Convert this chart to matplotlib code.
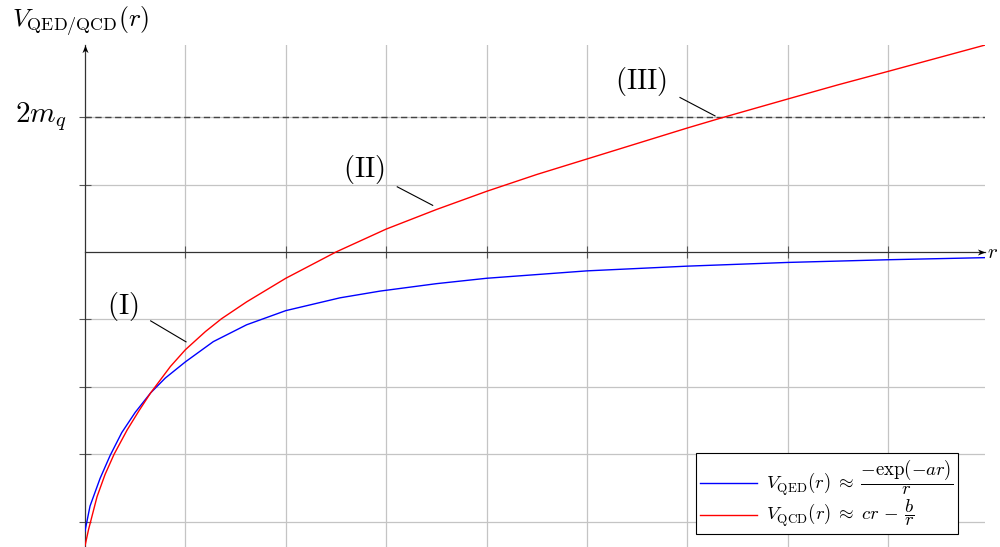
import matplotlib
matplotlib.use("Agg")
import matplotlib.pyplot as plt
from matplotlib.path import Path

plt.rcParams['mathtext.fontset'] = 'cm'
plt.rcParams['font.family'] = ['DejaVu Serif']

# sampled curves (r, V)
r_qcd = [0.0, 0.035, 0.12, 0.2, 0.29, 0.42, 0.54, 0.654, 0.85, 1.0, 1.2, 1.36, 1.61,
         2.0, 2.5, 3.0, 3.5, 4.0, 4.5, 5.0, 5.5, 6.0, 6.34, 7.0, 7.5, 8.0, 8.964]
v_qcd = [-4.36, -4.12, -3.63, -3.30, -3.0, -2.64, -2.35, -2.09, -1.70, -1.45, -1.18, -0.99, -0.74,
         -0.39, 0.0, 0.34, 0.63, 0.9, 1.15, 1.38, 1.61, 1.84, 1.99, 2.27, 2.48, 2.68, 3.07]

r_qed = [0.0, 0.05, 0.15, 0.25, 0.366, 0.5, 0.654, 0.8, 1.0, 1.278, 1.61, 2.0, 2.54,
         2.94, 3.5, 4.0, 5.0, 6.0, 7.0, 8.0, 8.964]
v_qed = [-4.14, -3.77, -3.36, -3.02, -2.68, -2.38, -2.09, -1.87, -1.63, -1.33, -1.08, -0.87, -0.68,
         -0.58, -0.47, -0.39, -0.28, -0.21, -0.155, -0.115, -0.084]

threshold = 2.0  # 2 m_q

x_ticks = [1, 2, 3, 4, 5, 6, 7, 8]
y_ticks = [-4, -3, -2, -1, 1, 2]

# pins: label, label position, line start, line end
pin_labels = ['(I)', '(II)', '(III)']
pin_text_xy = [(0.381, -0.815), (2.779, 1.23), (5.543, 2.523)]
pin_from = [(0.654, -1.022), (3.11, 0.967), (5.926, 2.292)]
pin_to = [(1.006, -1.333), (3.463, 0.692), (6.275, 2.019)]

xmax, ymin, ymax = 8.964, -4.377, 3.071

fig = plt.figure(figsize=(10, 5.47), dpi=100)
ax = fig.add_axes([0.085, 0.0, 0.9, (547 - 45) / 547])
ax.set_xlim(0, xmax)
ax.set_ylim(ymin, ymax)

ax.set_xticks(x_ticks)
ax.set_yticks(y_ticks)
ax.set_xticklabels([])
ax.set_yticklabels([])
ax.grid(True, color='#c4c4c4', lw=0.9, zorder=0)
ax.tick_params(direction='inout', length=8, width=0.8, color='#555555')

for side in ('top', 'right'):
    ax.spines[side].set_visible(False)
ax.spines['left'].set_position(('data', 0))
ax.spines['bottom'].set_position(('data', 0))
for side in ('left', 'bottom'):
    ax.spines[side].set_color('#333333')
    ax.spines[side].set_linewidth(0.9)
    ax.spines[side].set_zorder(3)

# stealth-like arrow heads on the axes
head_x = Path([(0, 0), (-1, 0.4), (-0.7, 0), (-1, -0.4), (0, 0)],
              [Path.MOVETO, Path.LINETO, Path.LINETO, Path.LINETO, Path.CLOSEPOLY])
head_y = Path([(0, 0), (-0.4, -1), (0, -0.7), (0.4, -1), (0, 0)],
              [Path.MOVETO, Path.LINETO, Path.LINETO, Path.LINETO, Path.CLOSEPOLY])
ax.plot(1, 0, marker=head_x, ms=11, color='black', mew=0,
        transform=ax.get_yaxis_transform(), clip_on=False, zorder=4)
ax.plot(0, 1, marker=head_y, ms=11, color='black', mew=0,
        transform=ax.get_xaxis_transform(), clip_on=False, zorder=4)

ax.axhline(threshold, color='#444444', lw=1.0, dashes=(4.5, 2.6), zorder=2)

ax.plot(r_qed, v_qed, color='#0000ff', lw=1.0, zorder=5,
        label=r'$V_{\mathrm{QED}}(r)\;\approx\;\dfrac{-\exp(-ar)}{r}$')
ax.plot(r_qcd, v_qcd, color='#ff0000', lw=1.0, zorder=5,
        label=r'$V_{\mathrm{QCD}}(r)\;\approx\;cr\,-\,\dfrac{b}{r}$')

for lab, txy, p0, p1 in zip(pin_labels, pin_text_xy, pin_from, pin_to):
    ax.plot([p0[0], p1[0]], [p0[1], p1[1]], color='black', lw=0.8, zorder=4)
    ax.text(txy[0], txy[1], r'$\mathrm{' + lab + '}$', fontsize=20.5,
            ha='center', va='center', zorder=6)

ax.text(-0.18, 1.933, r'$2m_q$', fontsize=21, ha='right', va='baseline')
ax.text(xmax + 0.02, -0.09, r'$r$', fontsize=15, ha='left', va='baseline',
        clip_on=False)
fig.text(0.0117, 1 - 27.3 / 547, r'$V_{\mathrm{QED/QCD}}(r)$', fontsize=18.5,
         ha='left', va='baseline')

leg = ax.legend(loc='lower right', bbox_to_anchor=(0.958, 1 - 534 / 547),
                bbox_transform=fig.transFigure, borderaxespad=0,
                fontsize=13.5, handlelength=3.0, handletextpad=0.5,
                labelspacing=0.0, borderpad=0.25, fancybox=False,
                framealpha=1, edgecolor='black')
leg.get_frame().set_linewidth(0.8)
leg.set_zorder(7)

fig.savefig('out.png', dpi=100)
